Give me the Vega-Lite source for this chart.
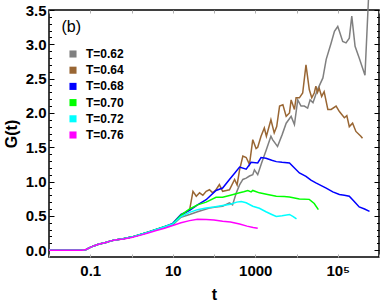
{
"$schema":"https://vega.github.io/schema/vega-lite/v6.json",
"width":330,"height":247,
"autosize":"none",
"padding":{"left":49,"top":10,"right":2,"bottom":47},
"data":{"values":[
{"T":"T=0.62","t":0.01,"G":0},{"T":"T=0.62","t":0.0316,"G":0},{"T":"T=0.62","t":0.0631,"G":0},{"T":"T=0.62","t":0.0794,"G":0.01},{"T":"T=0.62","t":0.1,"G":0.04},{"T":"T=0.62","t":0.126,"G":0.065},{"T":"T=0.62","t":0.158,"G":0.085},{"T":"T=0.62","t":0.2,"G":0.1},{"T":"T=0.62","t":0.251,"G":0.115},{"T":"T=0.62","t":0.316,"G":0.135},{"T":"T=0.62","t":0.398,"G":0.148},{"T":"T=0.62","t":0.631,"G":0.165},{"T":"T=0.62","t":1,"G":0.19},{"T":"T=0.62","t":1.585,"G":0.225},{"T":"T=0.62","t":2.512,"G":0.262},{"T":"T=0.62","t":3.981,"G":0.3},{"T":"T=0.62","t":6.31,"G":0.34},
{"T":"T=0.62","t":10,"G":0.37},{"T":"T=0.62","t":15.85,"G":0.48},{"T":"T=0.62","t":25.7,"G":0.52},{"T":"T=0.62","t":39.8,"G":0.56},{"T":"T=0.62","t":77.6,"G":0.615},{"T":"T=0.62","t":112,"G":0.63},{"T":"T=0.62","t":162,"G":0.64},{"T":"T=0.62","t":237,"G":0.69},{"T":"T=0.62","t":282,"G":0.66},{"T":"T=0.62","t":347,"G":0.835},{"T":"T=0.62","t":417,"G":0.95},{"T":"T=0.62","t":501,"G":1.03},{"T":"T=0.62","t":603,"G":1.05},{"T":"T=0.62","t":724,"G":1.08},{"T":"T=0.62","t":871,"G":1.1},{"T":"T=0.62","t":955,"G":1.17},{"T":"T=0.62","t":1148,"G":1.1},{"T":"T=0.62","t":1445,"G":1.28},{"T":"T=0.62","t":1820,"G":1.45},{"T":"T=0.62","t":2399,"G":1.66},{"T":"T=0.62","t":2630,"G":1.61},{"T":"T=0.62","t":3467,"G":1.51},{"T":"T=0.62","t":4467,"G":1.68},{"T":"T=0.62","t":5623,"G":1.85},{"T":"T=0.62","t":7413,"G":1.95},{"T":"T=0.62","t":8913,"G":1.83},{"T":"T=0.62","t":10715,"G":2.19},{"T":"T=0.62","t":12882,"G":2.1},{"T":"T=0.62","t":15488,"G":2.1},{"T":"T=0.62","t":18621,"G":2.07},{"T":"T=0.62","t":21380,"G":2.19},{"T":"T=0.62","t":25119,"G":2.15},{"T":"T=0.62","t":32359,"G":2.34},{"T":"T=0.62","t":43652,"G":2.51},{"T":"T=0.62","t":52481,"G":2.78},{"T":"T=0.62","t":69183,"G":3.02},{"T":"T=0.62","t":83176,"G":3.19},{"T":"T=0.62","t":100000,"G":3.26},{"T":"T=0.62","t":109648,"G":3.19},{"T":"T=0.62","t":131826,"G":3.04},{"T":"T=0.62","t":158489,"G":3.02},{"T":"T=0.62","t":190546,"G":3.09},{"T":"T=0.62","t":218776,"G":3.41},{"T":"T=0.62","t":263027,"G":2.97},{"T":"T=0.62","t":331131,"G":2.8},{"T":"T=0.62","t":457088,"G":2.55},{"T":"T=0.62","t":555904,"G":3.66},
{"T":"T=0.64","t":0.01,"G":0},{"T":"T=0.64","t":0.0316,"G":0},{"T":"T=0.64","t":0.0631,"G":0},{"T":"T=0.64","t":0.0794,"G":0.01},{"T":"T=0.64","t":0.1,"G":0.04},{"T":"T=0.64","t":0.126,"G":0.065},{"T":"T=0.64","t":0.158,"G":0.085},{"T":"T=0.64","t":0.2,"G":0.1},{"T":"T=0.64","t":0.251,"G":0.115},{"T":"T=0.64","t":0.316,"G":0.135},{"T":"T=0.64","t":0.398,"G":0.148},{"T":"T=0.64","t":0.631,"G":0.165},{"T":"T=0.64","t":1,"G":0.19},{"T":"T=0.64","t":1.585,"G":0.225},{"T":"T=0.64","t":2.512,"G":0.262},{"T":"T=0.64","t":3.981,"G":0.3},{"T":"T=0.64","t":6.31,"G":0.34},
{"T":"T=0.64","t":10,"G":0.37},{"T":"T=0.64","t":15.85,"G":0.5},{"T":"T=0.64","t":25.7,"G":0.59},{"T":"T=0.64","t":30.9,"G":0.857},{"T":"T=0.64","t":37.2,"G":0.785},{"T":"T=0.64","t":44.7,"G":0.835},{"T":"T=0.64","t":53.7,"G":0.8},{"T":"T=0.64","t":64.6,"G":0.857},{"T":"T=0.64","t":77.6,"G":0.88},{"T":"T=0.64","t":93.3,"G":0.835},{"T":"T=0.64","t":112,"G":0.88},{"T":"T=0.64","t":135,"G":0.955},{"T":"T=0.64","t":162,"G":0.857},{"T":"T=0.64","t":200,"G":0.87},{"T":"T=0.64","t":237,"G":0.88},{"T":"T=0.64","t":316,"G":1.03},{"T":"T=0.64","t":363,"G":0.95},{"T":"T=0.64","t":417,"G":1.17},{"T":"T=0.64","t":501,"G":1.37},{"T":"T=0.64","t":603,"G":1.35},{"T":"T=0.64","t":724,"G":1.25},{"T":"T=0.64","t":871,"G":1.61},{"T":"T=0.64","t":1047,"G":1.48},{"T":"T=0.64","t":1148,"G":1.5},{"T":"T=0.64","t":1380,"G":1.66},{"T":"T=0.64","t":1660,"G":1.78},{"T":"T=0.64","t":1862,"G":1.66},{"T":"T=0.64","t":2399,"G":1.9},{"T":"T=0.64","t":2884,"G":1.71},{"T":"T=0.64","t":3311,"G":1.8},{"T":"T=0.64","t":3890,"G":2.1},{"T":"T=0.64","t":4677,"G":2.12},{"T":"T=0.64","t":5623,"G":1.95},{"T":"T=0.64","t":6761,"G":2.0},{"T":"T=0.64","t":7413,"G":2.19},{"T":"T=0.64","t":8913,"G":2.05},{"T":"T=0.64","t":9772,"G":2.22},{"T":"T=0.64","t":11749,"G":2.22},{"T":"T=0.64","t":14125,"G":2.29},{"T":"T=0.64","t":16982,"G":2.7},{"T":"T=0.64","t":20417,"G":2.34},{"T":"T=0.64","t":23442,"G":2.22},{"T":"T=0.64","t":26915,"G":2.29},{"T":"T=0.64","t":29512,"G":2.39},{"T":"T=0.64","t":32359,"G":2.3},{"T":"T=0.64","t":35481,"G":2.36},{"T":"T=0.64","t":40738,"G":2.24},{"T":"T=0.64","t":46774,"G":2.31},{"T":"T=0.64","t":57544,"G":2.05},{"T":"T=0.64","t":69183,"G":2.05},{"T":"T=0.64","t":91201,"G":2.1},{"T":"T=0.64","t":109648,"G":2.02},{"T":"T=0.64","t":144544,"G":1.93},{"T":"T=0.64","t":165959,"G":1.96},{"T":"T=0.64","t":190546,"G":1.8},{"T":"T=0.64","t":229087,"G":1.85},{"T":"T=0.64","t":275423,"G":1.73},{"T":"T=0.64","t":363078,"G":1.66},{"T":"T=0.64","t":398107,"G":1.63},
{"T":"T=0.68","t":0.01,"G":0},{"T":"T=0.68","t":0.0316,"G":0},{"T":"T=0.68","t":0.0631,"G":0},{"T":"T=0.68","t":0.0794,"G":0.01},{"T":"T=0.68","t":0.1,"G":0.04},{"T":"T=0.68","t":0.126,"G":0.065},{"T":"T=0.68","t":0.158,"G":0.085},{"T":"T=0.68","t":0.2,"G":0.1},{"T":"T=0.68","t":0.251,"G":0.115},{"T":"T=0.68","t":0.316,"G":0.135},{"T":"T=0.68","t":0.398,"G":0.148},{"T":"T=0.68","t":0.631,"G":0.165},{"T":"T=0.68","t":1,"G":0.19},{"T":"T=0.68","t":1.585,"G":0.225},{"T":"T=0.68","t":2.512,"G":0.262},{"T":"T=0.68","t":3.981,"G":0.3},{"T":"T=0.68","t":6.31,"G":0.34},
{"T":"T=0.68","t":10,"G":0.39},{"T":"T=0.68","t":15.85,"G":0.52},{"T":"T=0.68","t":25.7,"G":0.58},{"T":"T=0.68","t":39.8,"G":0.66},{"T":"T=0.68","t":64.6,"G":0.735},{"T":"T=0.68","t":112,"G":0.87},{"T":"T=0.68","t":162,"G":0.905},{"T":"T=0.68","t":237,"G":1.03},{"T":"T=0.68","t":316,"G":1.12},{"T":"T=0.68","t":417,"G":1.21},{"T":"T=0.68","t":603,"G":1.18},{"T":"T=0.68","t":794,"G":1.28},{"T":"T=0.68","t":1148,"G":1.27},{"T":"T=0.68","t":1380,"G":1.35},{"T":"T=0.68","t":1820,"G":1.34},{"T":"T=0.68","t":2512,"G":1.31},{"T":"T=0.68","t":3236,"G":1.29},{"T":"T=0.68","t":4467,"G":1.28},{"T":"T=0.68","t":6761,"G":1.27},{"T":"T=0.68","t":11749,"G":1.125},{"T":"T=0.68","t":16982,"G":1.075},{"T":"T=0.68","t":22387,"G":1.02},{"T":"T=0.68","t":29512,"G":0.98},{"T":"T=0.68","t":39811,"G":0.94},{"T":"T=0.68","t":52481,"G":0.905},{"T":"T=0.68","t":75858,"G":0.85},{"T":"T=0.68","t":109648,"G":0.81},{"T":"T=0.68","t":144544,"G":0.8},{"T":"T=0.68","t":190546,"G":0.785},{"T":"T=0.68","t":251189,"G":0.71},{"T":"T=0.68","t":331131,"G":0.63},{"T":"T=0.68","t":446684,"G":0.6},{"T":"T=0.68","t":588844,"G":0.565},
{"T":"T=0.70","t":0.01,"G":0},{"T":"T=0.70","t":0.0316,"G":0},{"T":"T=0.70","t":0.0631,"G":0},{"T":"T=0.70","t":0.0794,"G":0.01},{"T":"T=0.70","t":0.1,"G":0.04},{"T":"T=0.70","t":0.126,"G":0.065},{"T":"T=0.70","t":0.158,"G":0.085},{"T":"T=0.70","t":0.2,"G":0.1},{"T":"T=0.70","t":0.251,"G":0.115},{"T":"T=0.70","t":0.316,"G":0.135},{"T":"T=0.70","t":0.398,"G":0.148},{"T":"T=0.70","t":0.631,"G":0.165},{"T":"T=0.70","t":1,"G":0.19},{"T":"T=0.70","t":1.585,"G":0.225},{"T":"T=0.70","t":2.512,"G":0.262},{"T":"T=0.70","t":3.981,"G":0.3},{"T":"T=0.70","t":6.31,"G":0.34},
{"T":"T=0.70","t":10,"G":0.38},{"T":"T=0.70","t":15.85,"G":0.51},{"T":"T=0.70","t":25.7,"G":0.6},{"T":"T=0.70","t":39.8,"G":0.66},{"T":"T=0.70","t":64.6,"G":0.7},{"T":"T=0.70","t":112,"G":0.77},{"T":"T=0.70","t":162,"G":0.77},{"T":"T=0.70","t":251,"G":0.8},{"T":"T=0.70","t":417,"G":0.835},{"T":"T=0.70","t":525,"G":0.85},{"T":"T=0.70","t":661,"G":0.87},{"T":"T=0.70","t":794,"G":0.85},{"T":"T=0.70","t":871,"G":0.87},{"T":"T=0.70","t":1259,"G":0.835},{"T":"T=0.70","t":1995,"G":0.81},{"T":"T=0.70","t":3236,"G":0.785},{"T":"T=0.70","t":5012,"G":0.78},{"T":"T=0.70","t":6761,"G":0.775},{"T":"T=0.70","t":11749,"G":0.745},{"T":"T=0.70","t":20417,"G":0.74},{"T":"T=0.70","t":26915,"G":0.68},{"T":"T=0.70","t":33884,"G":0.59},
{"T":"T=0.72","t":0.01,"G":0},{"T":"T=0.72","t":0.0316,"G":0},{"T":"T=0.72","t":0.0631,"G":0},{"T":"T=0.72","t":0.0794,"G":0.01},{"T":"T=0.72","t":0.1,"G":0.04},{"T":"T=0.72","t":0.126,"G":0.065},{"T":"T=0.72","t":0.158,"G":0.085},{"T":"T=0.72","t":0.2,"G":0.1},{"T":"T=0.72","t":0.251,"G":0.115},{"T":"T=0.72","t":0.316,"G":0.135},{"T":"T=0.72","t":0.398,"G":0.148},{"T":"T=0.72","t":0.631,"G":0.165},{"T":"T=0.72","t":1,"G":0.19},{"T":"T=0.72","t":1.585,"G":0.225},{"T":"T=0.72","t":2.512,"G":0.262},{"T":"T=0.72","t":3.981,"G":0.3},{"T":"T=0.72","t":6.31,"G":0.34},
{"T":"T=0.72","t":10,"G":0.38},{"T":"T=0.72","t":15.85,"G":0.49},{"T":"T=0.72","t":25.7,"G":0.55},{"T":"T=0.72","t":39.8,"G":0.59},{"T":"T=0.72","t":64.6,"G":0.615},{"T":"T=0.72","t":100,"G":0.63},{"T":"T=0.72","t":162,"G":0.65},{"T":"T=0.72","t":251,"G":0.67},{"T":"T=0.72","t":355,"G":0.7},{"T":"T=0.72","t":457,"G":0.71},{"T":"T=0.72","t":603,"G":0.69},{"T":"T=0.72","t":871,"G":0.64},{"T":"T=0.72","t":1259,"G":0.61},{"T":"T=0.72","t":1820,"G":0.56},{"T":"T=0.72","t":2512,"G":0.52},{"T":"T=0.72","t":3236,"G":0.49},{"T":"T=0.72","t":4467,"G":0.5},{"T":"T=0.72","t":6761,"G":0.52},{"T":"T=0.72","t":8318,"G":0.49},{"T":"T=0.72","t":10000,"G":0.455},
{"T":"T=0.76","t":0.01,"G":0},{"T":"T=0.76","t":0.0316,"G":0},{"T":"T=0.76","t":0.0631,"G":0},{"T":"T=0.76","t":0.0794,"G":0.01},{"T":"T=0.76","t":0.1,"G":0.04},{"T":"T=0.76","t":0.126,"G":0.065},{"T":"T=0.76","t":0.158,"G":0.085},{"T":"T=0.76","t":0.2,"G":0.1},{"T":"T=0.76","t":0.251,"G":0.115},{"T":"T=0.76","t":0.316,"G":0.135},{"T":"T=0.76","t":0.398,"G":0.148},{"T":"T=0.76","t":0.631,"G":0.163},{"T":"T=0.76","t":1,"G":0.185},{"T":"T=0.76","t":1.585,"G":0.215},{"T":"T=0.76","t":2.512,"G":0.25},{"T":"T=0.76","t":3.981,"G":0.285},{"T":"T=0.76","t":6.31,"G":0.32},
{"T":"T=0.76","t":10,"G":0.36},{"T":"T=0.76","t":15.85,"G":0.4},{"T":"T=0.76","t":25.7,"G":0.43},{"T":"T=0.76","t":39.8,"G":0.45},{"T":"T=0.76","t":64.6,"G":0.445},{"T":"T=0.76","t":100,"G":0.44},{"T":"T=0.76","t":162,"G":0.42},{"T":"T=0.76","t":251,"G":0.41},{"T":"T=0.76","t":417,"G":0.38},{"T":"T=0.76","t":631,"G":0.35},{"T":"T=0.76","t":891,"G":0.33},{"T":"T=0.76","t":1148,"G":0.32}
]},
"layer":[
{"mark":{"type":"line","strokeWidth":1.5},
 "encoding":{
  "x":{"field":"t","type":"quantitative","scale":{"type":"log","domain":[0.01,1000000],"nice":false},
   "axis":{"orient":"bottom","values":[0.01,0.1,1,10,100,1000,10000,100000,1000000],"labelExpr":"datum.value==0.1?'0.1':datum.value==10?'10':datum.value==1000?'1000':datum.value==100000?'10⁵':''","labelOverlap":false,"labelFlush":false,"labelBound":false,"tickSize":-3,"tickColor":"#b0b0b0","labelPadding":9,"title":"t","titlePadding":8}},
  "y":{"field":"G","type":"quantitative","scale":{"domain":[-0.1,3.5],"nice":false,"zero":false},
   "axis":{"orient":"left","values":[0,0.5,1,1.5,2,2.5,3,3.5],"format":".1f","labelOverlap":false,"labelFlush":false,"tickSize":-5,"tickColor":"black","labelPadding":8,"title":"G(t)","titlePadding":6}},
  "color":{"field":"T","type":"nominal","scale":{"domain":["T=0.62","T=0.64","T=0.68","T=0.70","T=0.72","T=0.76"],"range":["#808080","#996633","#0000ff","#00ff00","#00ffff","#ff00ff"]},
   "legend":{"orient":"none","legendX":18,"legendY":38,"title":null,"symbolType":"square","symbolSize":50,"symbolStrokeWidth":0,"labelFontSize":12,"labelFontWeight":"bold","labelFont":"Liberation Sans","labelColor":"black","rowPadding":4.2,"padding":0,"labelOffset":7,
    "encode":{"symbols":{"update":{"fill":{"scale":"color","field":"value"},"strokeWidth":{"value":0},"opacity":{"value":1}}}}}}
 }},
{"data":{"values":[{"t":1,"G":0}]},
 "mark":{"type":"point","opacity":0},
 "encoding":{
  "x":{"field":"t","type":"quantitative","scale":{"type":"log","domain":[0.01,1000000],"nice":false},
   "axis":{"orient":"top","values":[0.01,0.1,1,10,100,1000,10000,100000,1000000],"labels":false,"tickSize":-3,"tickColor":"#b0b0b0","title":null}},
  "y":{"field":"G","type":"quantitative","scale":{"domain":[-0.1,3.5],"nice":false,"zero":false},
   "axis":{"orient":"right","values":[0,0.5,1,1.5,2,2.5,3,3.5],"labels":false,"tickSize":-5,"tickColor":"black","title":null}}
 }},
{"data":{"values":[{"t":1,"G":0}]},
 "mark":{"type":"point","opacity":0},
 "encoding":{
  "x":{"field":"t","type":"quantitative","scale":{"type":"log","domain":[0.01,1000000],"nice":false},"axis":null},
  "y":{"field":"G","type":"quantitative","scale":{"domain":[-0.1,3.5],"nice":false,"zero":false},
   "axis":{"orient":"left","values":[0.1,0.2,0.3,0.4,0.6,0.7,0.8,0.9,1.1,1.2,1.3,1.4,1.6,1.7,1.8,1.9,2.1,2.2,2.3,2.4,2.6,2.7,2.8,2.9,3.1,3.2,3.3,3.4],"labels":false,"tickSize":-2.5,"tickColor":"black","title":null}}
 }},
{"data":{"values":[{"t":1,"G":0}]},
 "mark":{"type":"point","opacity":0},
 "encoding":{
  "x":{"field":"t","type":"quantitative","scale":{"type":"log","domain":[0.01,1000000],"nice":false},"axis":null},
  "y":{"field":"G","type":"quantitative","scale":{"domain":[-0.1,3.5],"nice":false,"zero":false},
   "axis":{"orient":"right","values":[0.1,0.2,0.3,0.4,0.6,0.7,0.8,0.9,1.1,1.2,1.3,1.4,1.6,1.7,1.8,1.9,2.1,2.2,2.3,2.4,2.6,2.7,2.8,2.9,3.1,3.2,3.3,3.4],"labels":false,"tickSize":-2.5,"tickColor":"black","title":null}}
 }},
{"data":{"values":[{"label":"(b)","t":0.02,"G":3.25}]},
 "mark":{"type":"text","align":"left","baseline":"middle","fontSize":16,"font":"Liberation Sans","color":"black"},
 "encoding":{
  "x":{"field":"t","type":"quantitative","scale":{"type":"log","domain":[0.01,1000000],"nice":false},"axis":null},
  "y":{"field":"G","type":"quantitative","scale":{"domain":[-0.1,3.5],"nice":false,"zero":false},"axis":null},
  "text":{"field":"label"}
 }}
],
"resolve":{"axis":{"x":"independent","y":"independent"}},
"config":{
 "font":"Liberation Sans",
 "view":{"stroke":"black","strokeWidth":1.5},
 "axis":{"grid":false,"domain":false,"labelFont":"Liberation Sans","labelFontWeight":"bold","labelFontSize":15,"labelColor":"black","titleFont":"Liberation Sans","titleFontWeight":"bold","titleFontSize":16,"titleColor":"black","tickWidth":1}
}
}
